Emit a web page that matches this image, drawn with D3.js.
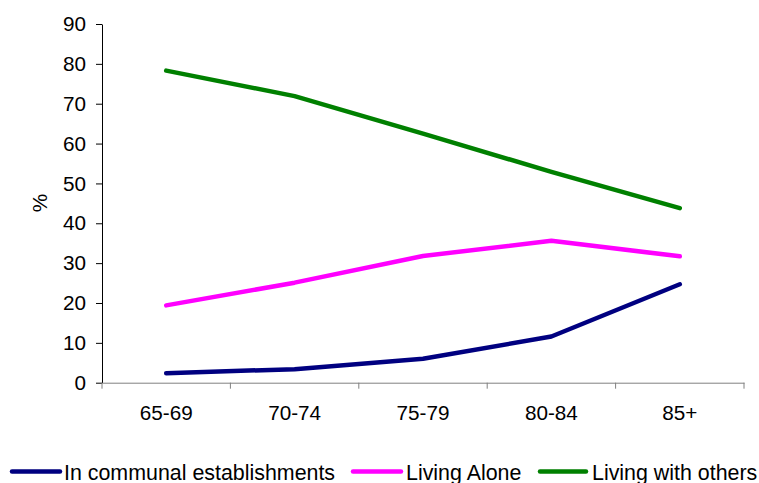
<!DOCTYPE html>
<html><head><meta charset="utf-8">
<script src="https://cdn.jsdelivr.net/npm/d3@7"></script>
<style>body{margin:0;background:#fff}svg{display:block;font-family:"Liberation Sans",Arial,sans-serif}</style>
</head><body><svg id="c" width="759" height="483"></svg>
<script>
const categories = ["65-69","70-74","75-79","80-84","85+"];
const communal = [2.4, 3.4, 6.0, 11.6, 24.7];
const alone = [19.4, 25.1, 31.8, 35.6, 31.7];
const others = [78.3, 71.9, 62.5, 52.9, 43.8];
const yTicks = [0,10,20,30,40,50,60,70,80,90];
const seriesNames = ["In communal establishments","Living Alone","Living with others"];
const colors = ["#000080","#FF00FF","#008000"];

const FS = 20.7;
const LFS = 21.4;
const svg = d3.select("#c");
const x = d3.scaleBand().domain(categories).range([102,744]);
const y = d3.scaleLinear().domain([0,90]).range([382.7,24]);

const yAxis = svg.append("g").attr("transform","translate(102,0)")
  .call(d3.axisLeft(y).tickValues(yTicks).tickSize(6).tickPadding(10).tickSizeOuter(0));
yAxis.select(".domain").attr("stroke","#000");
yAxis.selectAll(".tick line").attr("stroke","#000");
yAxis.selectAll("text").attr("font-size",FS).attr("fill","#000").attr("font-family","Liberation Sans, Arial, sans-serif");

const xAxis = svg.append("g").attr("transform","translate(0,382.7)")
  .call(d3.axisBottom(x).tickSize(0).tickPadding(23).tickSizeOuter(0));
xAxis.select(".domain").attr("stroke","#808080");
xAxis.selectAll("text").attr("font-size",FS).attr("fill","#000").attr("font-family","Liberation Sans, Arial, sans-serif");
const bounds = categories.map(c=>x(c)).concat([x.range()[1]]);
svg.append("g").selectAll("line").data(bounds).join("line")
  .attr("x1",d=>d).attr("x2",d=>d).attr("y1",382.7).attr("y2",388.7)
  .attr("stroke","#808080");

svg.append("text").attr("transform","translate(47,203) rotate(-90)")
  .attr("text-anchor","middle").attr("font-size",FS).text("%");

const line = d3.line().x((d,i)=>x(categories[i])+x.bandwidth()/2).y(d=>y(d));
[communal, alone, others].forEach((s,k)=>{
  svg.append("path").datum(s).attr("d",line).attr("fill","none")
    .attr("stroke",colors[k]).attr("stroke-width",4.5)
    .attr("stroke-linecap","round").attr("stroke-linejoin","round");
});

const legLine = [[12,60],[353,401],[540,586]];
const legText = [64, 406, 592];
seriesNames.forEach((n,k)=>{
  const g = svg.append("g");
  g.append("line").attr("x1",legLine[k][0]).attr("x2",legLine[k][1]).attr("y1",471.5).attr("y2",471.5)
    .attr("stroke",colors[k]).attr("stroke-width",4.5).attr("stroke-linecap","round");
  g.append("text").attr("x",legText[k]).attr("y",479.5).attr("font-size",LFS).text(n);
});
</script></body></html>
